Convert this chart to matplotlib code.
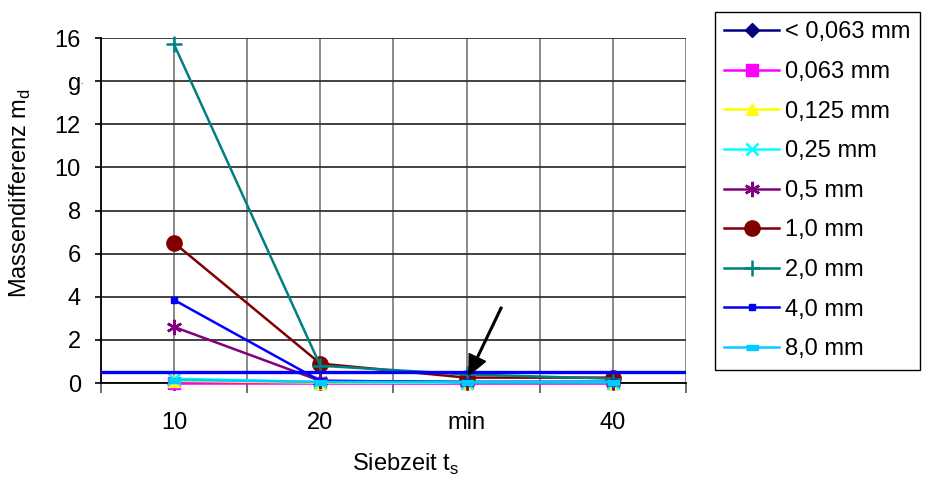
import numpy as np
import matplotlib
matplotlib.use("Agg")
import matplotlib.pyplot as plt

plt.rcParams["font.family"] = ["Liberation Sans", "DejaVu Sans"]
plt.rcParams["mathtext.fontset"] = "custom"
plt.rcParams["mathtext.rm"] = "Liberation Sans"

# ---- data ----
categories = ["10", "20", "min", "40"]
labels = ["< 0,063 mm", "0,063 mm", "0,125 mm", "0,25 mm", "0,5 mm",
          "1,0 mm", "2,0 mm", "4,0 mm", "8,0 mm"]
v_lt063 = [0.02, 0.01, 0.0, 0.0]
v_063 = [0.0, 0.0, 0.0, 0.0]
v_125 = [0.1, 0.02, 0.01, 0.01]
v_25 = [0.2, 0.05, 0.02, 0.02]
v_05 = [2.6, 0.1, 0.05, 0.05]
v_10 = [6.5, 0.9, 0.25, 0.25]
v_20 = [15.7, 0.8, 0.4, 0.2]
v_40 = [3.85, 0.1, 0.05, 0.05]
v_80 = [0.15, 0.05, 0.05, 0.05]
series = [v_lt063, v_063, v_125, v_25, v_05, v_10, v_20, v_40, v_80]
limit_value = 0.52
yticks = [0, 2, 4, 6, 8, 10, 12, 14, 16]
yticklabels = ["0", "2", "4", "6", "8", "10", "12", "g", "16"]

colors = ["#000080", "#FF00FF", "#FFFF00", "#00FFFF", "#800080",
          "#800000", "#008080", "#0000FF", "#00CCFF"]
bar_marker = [(-1, -0.45), (1, -0.45), (1, 0.45), (-1, 0.45)]
markers = ["D", "s", "^", "x", (6, 2, 0), "o", "+", "s", bar_marker]
msizes = [7, 8, 9, 9, 11, 11, 12, 5, 8]
mews = [1, 1, 1, 1.8, 1.8, 1, 1.8, 1, 1]
FS = 17

fig = plt.figure(figsize=(9.29, 4.86), dpi=100)
ax = fig.add_axes([0.1087, 0.2119, 0.6297, 0.7099])

x = np.arange(len(categories))
handles = []
for vals, lab, c, m, ms, mew in zip(series, labels, colors, markers, msizes, mews):
    h, = ax.plot(x, vals, color=c, marker=m, markersize=ms, markeredgewidth=mew,
                 markerfacecolor=c, markeredgecolor=c, linewidth=1.8,
                 label=lab, clip_on=False, zorder=3)
    handles.append(h)

ax.axhline(limit_value, color="#0000FF", linewidth=2.4, zorder=4)
ax.annotate("", xy=(2.016, 0.37), xytext=(2.238, 3.51),
            arrowprops=dict(facecolor="black", edgecolor="black", width=1.2,
                            headwidth=13, headlength=14, shrink=0),
            zorder=5)

ax.set_xlim(-0.5, 3.5)
ax.set_ylim(0, 16)
ax.set_xticks(x)
ax.set_xticklabels(categories, fontsize=FS)
ax.set_xticks(np.arange(-0.5, 3.6, 1.0), minor=True)
ax.tick_params(axis="x", which="major", length=0, pad=21)
ax.tick_params(axis="x", which="minor", length=7, width=1.2, color="#555555")
ax.set_yticks(yticks)
ax.set_yticklabels(yticklabels, fontsize=FS)
ax.tick_params(axis="y", length=4.5, width=1.2, pad=10)
ax.text(-0.637, 14.0, ".", fontsize=7, ha="center", va="center", clip_on=False)

for v in np.arange(-0.5, 3.6, 0.5):
    ax.axvline(v, color="#808080", linewidth=1.3, zorder=1)
for v in yticks:
    ax.axhline(v, color="#333333", linewidth=1.3, zorder=1)
for s in ["top", "right"]:
    ax.spines[s].set_visible(False)
ax.spines["left"].set_linewidth(1.3)
ax.spines["bottom"].set_linewidth(1.3)

ax.set_ylabel(r"Massendifferenz m$_{\mathrm{d}}$", fontsize=FS)
ax.yaxis.set_label_coords(-0.116, 0.55)
ax.set_xlabel(r"Siebzeit t$_{\mathrm{s}}$", fontsize=FS)
ax.xaxis.set_label_coords(0.521, -0.2)

fig.legend(handles=handles, loc="upper left", bbox_to_anchor=(715 / 929, 1 - 12 / 486),
           fontsize=FS, frameon=True, fancybox=False, edgecolor="black",
           framealpha=1, handlelength=2.33, handletextpad=0.25,
           labelspacing=0.745, borderpad=0.4, borderaxespad=0)

fig.savefig("out.png", dpi=100)
